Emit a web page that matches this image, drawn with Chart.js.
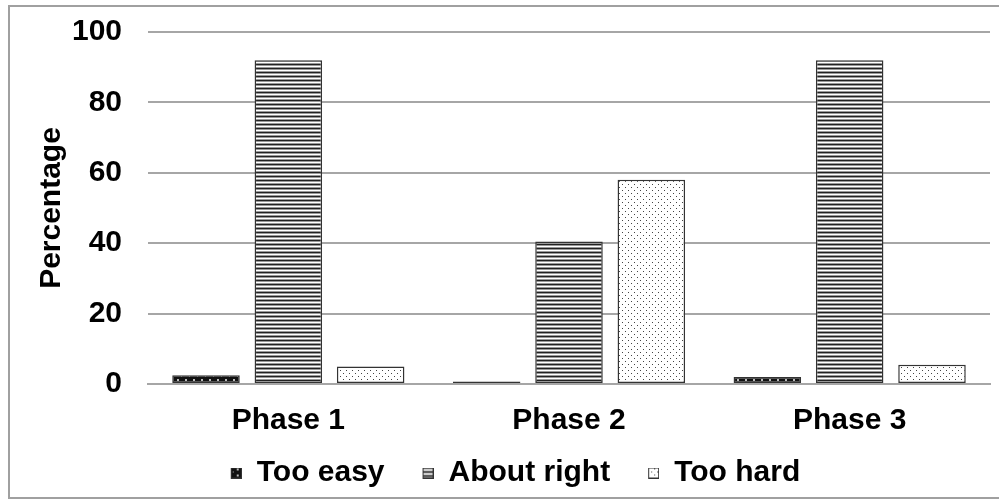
<!DOCTYPE html>
<html>
<head>
<meta charset="utf-8">
<script src="https://cdn.jsdelivr.net/npm/chart.js@4"></script>
<style>
  body { margin: 0; background: #fff; }
  #wrap { position: absolute; left: 0; top: 0; width: 999px; height: 502px; }
</style>
</head>
<body>
<div id="wrap"><canvas id="ratingChart" width="999" height="502"></canvas></div>
<script>
const categories = ['Phase 1', 'Phase 2', 'Phase 3'];
const seriesNames = ['Too easy', 'About right', 'Too hard'];
const tooEasy = [2.5, 0.7, 2];
const aboutRight = [92, 40.5, 92];
const tooHard = [5, 58, 5.5];
const yTicks = [0, 20, 40, 60, 80, 100];

// small tiles used as fill patterns, like the Excel pattern fills
function paintDarkDots(g) {
    g.fillStyle = '#111';
    g.fillRect(0, 0, 8, 6);
    g.fillStyle = '#bbb';
    g.fillRect(1, 1, 2, 2);
    g.fillRect(5, 4, 1, 1);
}
function paintStripes(g) {
    g.fillStyle = '#fff';
    g.fillRect(0, 0, 4, 4);
    g.fillStyle = '#222';
    g.fillRect(0, 0, 4, 1);
    g.fillStyle = '#999';
    g.fillRect(0, 1, 4, 1);
    g.fillRect(0, 3, 4, 1);
}
function paintLightDots(g) {
    g.fillStyle = '#fff';
    g.fillRect(0, 0, 6, 6);
    g.fillStyle = '#444';
    g.fillRect(1, 1, 1, 1);
    g.fillRect(4, 4, 1, 1);
}
const tiles = [[8, 6, paintDarkDots], [4, 4, paintStripes], [6, 6, paintLightDots]];

function makePattern(target, tile) {
    const c = document.createElement('canvas');
    c.width = tile[0];
    c.height = tile[1];
    tile[2](c.getContext('2d'));
    return target.createPattern(c, 'repeat');
}

// legend marker: patterned square on the right of a wider transparent image,
// so the empty part acts as space between legend items
function makeLegendIcon(tile) {
    const c = document.createElement('canvas');
    c.width = 30;
    c.height = 11;
    const g = c.getContext('2d');
    g.fillStyle = makePattern(g, tile);
    g.fillRect(19, 0, 11, 11);
    g.strokeStyle = '#333';
    g.lineWidth = 1;
    g.strokeRect(19.5, 0.5, 10, 10);
    return c;
}

const ctx = document.getElementById('ratingChart').getContext('2d');
const fills = tiles.map(t => makePattern(ctx, t));
const icons = tiles.map(makeLegendIcon);
const values = [tooEasy, aboutRight, tooHard];

const frame = {
    id: 'frame',
    beforeDraw(chart) {
        const c = chart.ctx;
        c.save();
        c.fillStyle = '#fff';
        c.fillRect(0, 0, chart.width, chart.height);
        c.strokeStyle = '#a0a0a0';
        c.lineWidth = 2;
        c.strokeRect(9, 6, 995, 492);
        c.restore();
    }
};

const axisFont = { family: 'Liberation Sans, Arial, sans-serif', size: 30, weight: 'bold' };
const legendFont = { family: 'Liberation Sans, Arial, sans-serif', size: 30, weight: 'bold' };

new Chart(ctx, {
    type: 'bar',
    data: {
        labels: categories,
        datasets: seriesNames.map((name, i) => ({
            label: name,
            data: values[i],
            backgroundColor: fills[i],
            borderColor: '#333',
            borderWidth: 1.5,
            borderSkipped: false,
            categoryPercentage: 0.88,
            barPercentage: 0.82
        }))
    },
    options: {
        responsive: false,
        animation: false,
        // left padding also centres the legend where the original has it
        layout: { padding: { top: 32, right: 9, bottom: 4, left: 22 } },
        plugins: {
            tooltip: { enabled: false },
            legend: {
                position: 'bottom',
                labels: {
                    color: '#000',
                    font: legendFont,
                    usePointStyle: true,
                    pointStyleWidth: 30,
                    boxHeight: 11,
                    padding: 19,
                    generateLabels(chart) {
                        const items = Chart.defaults.plugins.legend.labels.generateLabels(chart);
                        items.forEach((item, i) => { item.pointStyle = icons[i]; });
                        return items;
                    }
                }
            }
        },
        scales: {
            x: {
                grid: { display: false },
                border: { color: '#a6a6a6', width: 2 },
                ticks: { color: '#000', font: axisFont, padding: 11 },
                afterFit(scale) { scale.height = 55; }
            },
            y: {
                min: 0,
                max: 100,
                afterBuildTicks(scale) { scale.ticks = yTicks.map(v => ({ value: v })); },
                grid: {
                    color: '#a6a6a6',
                    lineWidth: 2,
                    drawTicks: true,
                    tickLength: 26,
                    tickColor: 'rgba(0,0,0,0)'
                },
                border: { display: false },
                ticks: { color: '#000', font: axisFont, padding: 0 },
                title: {
                    display: true,
                    text: 'Percentage',
                    color: '#000',
                    font: axisFont,
                    padding: { top: 12, bottom: 0 }
                },
                afterFit(scale) { scale.width = 126; }
            }
        }
    },
    plugins: [frame]
});
</script>
</body>
</html>
